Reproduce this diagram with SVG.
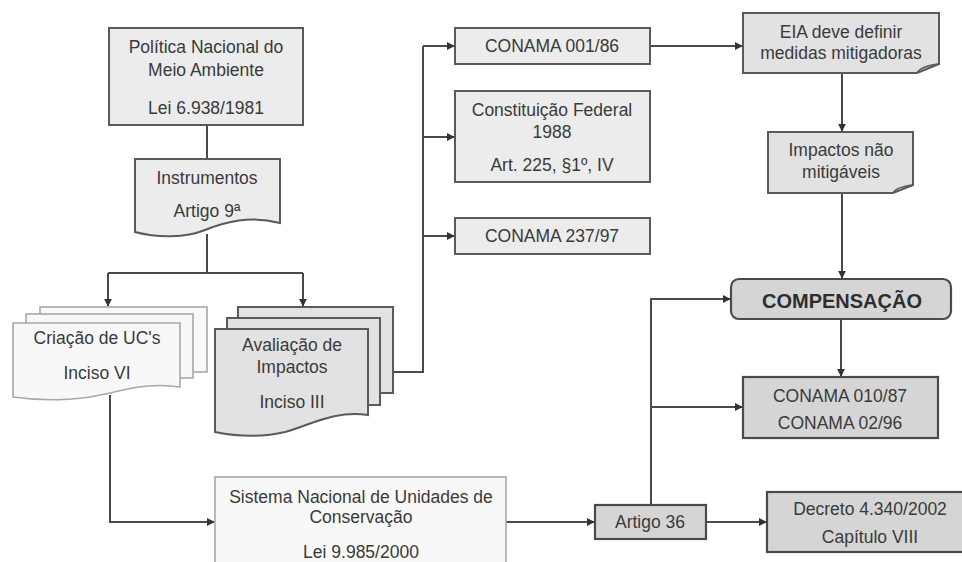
<svg xmlns="http://www.w3.org/2000/svg" width="962" height="562" viewBox="0 0 962 562">
<defs>
<marker id="ah" viewBox="0 0 10 10" refX="9" refY="5" markerWidth="8" markerHeight="8" markerUnits="userSpaceOnUse" orient="auto">
<path d="M0,0 L10,5 L0,10 Z" fill="#333"/>
</marker>
<style>
text{font-family:"Liberation Sans",Arial,sans-serif;font-size:17.5px;fill:#3a3a3a;text-anchor:middle}
.b{font-weight:bold;font-size:20px;fill:#2e2e2e}
.lt{fill:#ececec;stroke:#5a5a5a;stroke-width:2}
.wh{fill:#f8f8f8;stroke:#a8a8a8;stroke-width:1.6}
.md{fill:#e2e2e2;stroke:#5a5a5a;stroke-width:2}
.dk{fill:#d5d5d5;stroke:#4a4a4a;stroke-width:2.2}
.c{fill:none;stroke:#4a4a4a;stroke-width:2}
.ca{fill:none;stroke:#4a4a4a;stroke-width:2;marker-end:url(#ah)}
</style>
</defs>
<rect width="962" height="562" fill="#fff"/>

<g id="connectors">
<path class="c" d="M207,125 V159"/>
<path class="c" d="M207,234 V273 M108,273 H303"/>
<path class="ca" d="M108,273 V306"/>
<path class="ca" d="M303,273 V306"/>
<path class="c" d="M393,372 H423 V46"/>
<path class="ca" d="M423,46 H454"/>
<path class="ca" d="M423,137 H454"/>
<path class="ca" d="M423,236 H454"/>
<path class="ca" d="M650,46 H742"/>
<path class="ca" d="M842,73 V131"/>
<path class="ca" d="M842,193 V278"/>
<path class="ca" d="M841,319 V376"/>
<path class="ca" d="M110,395 V522 H214"/>
<path class="ca" d="M506,522 H594"/>
<path class="ca" d="M651,505 V299 H730"/>
<path class="ca" d="M651,407 H742"/>
<path class="ca" d="M706,522 H766"/>
</g>

<g id="politica">
<rect class="lt" x="109" y="28" width="194" height="97"/>
<text x="206" y="53">Política Nacional do</text>
<text x="206" y="76">Meio Ambiente</text>
<text x="206" y="114">Lei 6.938/1981</text>
</g>

<g id="instrumentos">
<path class="lt" d="M135,159 H280 V223 C250,215 225,222 205,230 C185,238 158,238 135,232 Z"/>
<text x="207" y="184">Instrumentos</text>
<text x="207" y="217">Artigo 9ª</text>
</g>

<g id="criacao">
<rect class="wh" x="40" y="307" width="167" height="65"/>
<rect class="wh" x="26" y="314" width="167" height="64"/>
<path class="wh" d="M13,323 H180 V387 C150,382 125,390 100,395 C75,401 40,401 13,397 Z"/>
<text x="97" y="344">Criação de UC's</text>
<text x="97" y="379">Inciso VI</text>
</g>

<g id="avaliacao">
<rect class="md" x="238" y="307" width="155" height="86"/>
<rect class="md" x="227" y="318" width="153" height="87"/>
<path class="md" d="M215,329 H368 V415 C335,410 310,425 285,432 C260,438 235,436 215,432 Z"/>
<text x="292" y="351">Avaliação de</text>
<text x="292" y="373">Impactos</text>
<text x="292" y="408">Inciso III</text>
</g>

<g id="conama00186">
<rect class="lt" x="455" y="28" width="195" height="36"/>
<text x="552" y="52">CONAMA 001/86</text>
</g>

<g id="constituicao">
<rect class="lt" x="455" y="91" width="195" height="91"/>
<text x="552" y="116">Constituição Federal</text>
<text x="552" y="138">1988</text>
<text x="552" y="171">Art. 225, §1º, IV</text>
</g>

<g id="conama23797">
<rect class="lt" x="455" y="218" width="195" height="36"/>
<text x="552" y="242">CONAMA 237/97</text>
</g>

<g id="eia">
<path class="md" d="M743,13 H939 V64 L917,73 H743 Z"/>
<path fill="none" stroke="#5a5a5a" stroke-width="1.5" d="M917,73 Q921,66 939,64"/>
<text x="841" y="38">EIA deve definir</text>
<text x="841" y="59">medidas mitigadoras</text>
</g>

<g id="impactos">
<path class="md" d="M768,132 H913 V185 L893,193 H768 Z"/>
<path fill="none" stroke="#5a5a5a" stroke-width="1.5" d="M893,193 Q896,187 913,185"/>
<text x="841" y="156">Impactos não</text>
<text x="841" y="178">mitigáveis</text>
</g>

<g id="compensacao">
<rect class="dk" x="731" y="279" width="220" height="40" rx="8" stroke-width="2.6"/>
<text class="b" x="842" y="308">COMPENSAÇÃO</text>
</g>

<g id="conama01087">
<rect class="dk" x="743" y="377" width="195" height="61"/>
<text x="840" y="402">CONAMA 010/87</text>
<text x="840" y="429">CONAMA 02/96</text>
</g>

<g id="snuc">
<rect class="wh" x="215" y="477" width="291" height="100"/>
<text x="361" y="503">Sistema Nacional de Unidades de</text>
<text x="361" y="523">Conservação</text>
<text x="361" y="558">Lei 9.985/2000</text>
</g>

<g id="artigo36">
<rect class="dk" x="595" y="505" width="111" height="34"/>
<text x="650" y="528">Artigo 36</text>
</g>

<g id="decreto">
<rect class="dk" x="767" y="492" width="210" height="60"/>
<text x="870" y="515">Decreto 4.340/2002</text>
<text x="870" y="543">Capítulo VIII</text>
</g>
</svg>
